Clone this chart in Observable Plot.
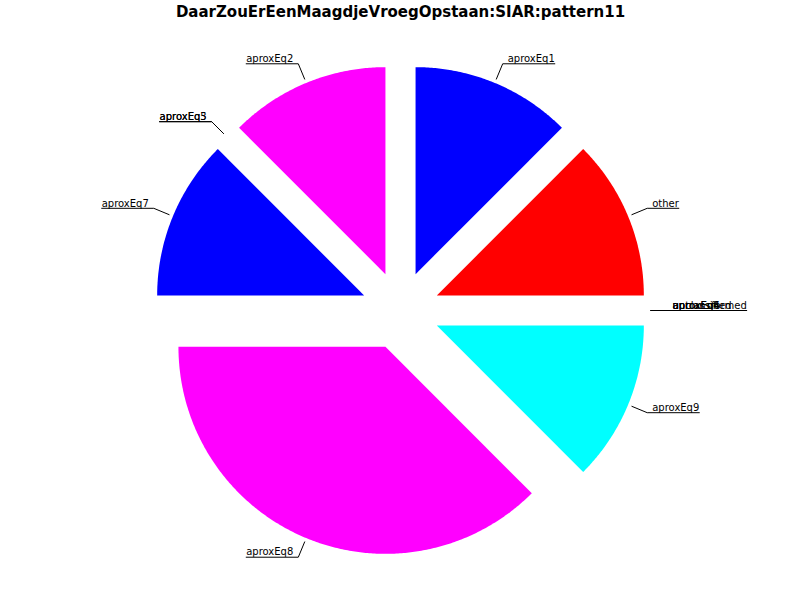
<!DOCTYPE html>
<html><head><meta charset="utf-8">
<script src="https://cdn.jsdelivr.net/npm/d3@7"></script>
<script src="https://cdn.jsdelivr.net/npm/@observablehq/plot@0.6"></script>
<style>body{margin:0;background:#fff;}</style>
</head><body><div id="chart"></div>
<script>
const title = "DaarZouErEenMaagdjeVroegOpstaan:SIAR:pattern11";
const labels = ["aproxEq1","other","aproxEq4","aproxEq6","unclassified","untransformed","aproxEq9","aproxEq8","aproxEq7","aproxEq3","aproxEq5","aproxEq2"];
const values = [1,1,0,0,0,0,1,3,1,0,0,1];
const colors = ["#0000ff","#ff0000","#00ff00","#ffff00","#000000","#808080","#00ffff","#ff00ff","#0000ff","#ff0000","#00ff00","#ff00ff"];

const R_PX = 207, W = 800, H = 600, CX = 400, CY = 310;
const explode = 0.19;

const data = labels.map((l, i) => ({label: l, value: values[i], color: colors[i]}));
const arcs = d3.pie().sort(null).value(d => d.value)(data);

const ctx = document.createElement("canvas").getContext("2d");
ctx.font = "10px 'DejaVu Sans'";

const polys = [], leaders = [], textsR = [], textsL = [];
arcs.forEach((a, i) => {
  const m = (a.startAngle + a.endAngle) / 2;
  const s = Math.sin(m), c = Math.cos(m);
  const ox = explode * s, oy = explode * c;
  const span = a.endAngle - a.startAngle;
  if (span > 0) {
    polys.push({k: i, x: ox, y: oy, c: a.data.color});
    const n = Math.max(2, Math.ceil(span / (Math.PI / 360)));
    for (let j = 0; j <= n; j++) {
      const t = a.startAngle + span * j / n;
      polys.push({k: i, x: ox + Math.sin(t), y: oy + Math.cos(t), c: a.data.color});
    }
  }
  const w = ctx.measureText(a.data.label).width;
  const right = s >= -1e-9;
  const ex = ox + 1.1 * s, ey = oy + 1.1 * c;
  const outer = ex + (right ? 1 : -1) * (w + 5) / R_PX;
  leaders.push({k: i, x: ox + 1.02 * s, y: oy + 1.02 * c});
  leaders.push({k: i, x: ex, y: ey});
  leaders.push({k: i, x: outer, y: ey});
  (right ? textsR : textsL).push({x: outer, y: ey, label: a.data.label});
});

const chart = Plot.plot({
  width: W, height: H,
  marginTop: 0, marginBottom: 0, marginLeft: 0, marginRight: 0,
  x: {domain: [-CX / R_PX, (W - CX) / R_PX], axis: null},
  y: {domain: [-(H - CY) / R_PX, CY / R_PX], axis: null},
  color: {type: "identity"},
  style: {fontFamily: "'DejaVu Sans', sans-serif", background: "#fff"},
  marks: [
    Plot.line(polys, {x: "x", y: "y", z: "k", fill: "c", stroke: "none", curve: "linear"}),
    Plot.line(leaders, {x: "x", y: "y", z: "k", stroke: "black", strokeWidth: 1, curve: "linear"}),
    Plot.text(textsR, {x: "x", y: "y", text: "label", textAnchor: "end", dy: -5, fontSize: 10, fill: "black"}),
    Plot.text(textsL, {x: "x", y: "y", text: "label", textAnchor: "start", dy: -5, fontSize: 10, fill: "black"}),
    Plot.text([title], {frameAnchor: "top", lineAnchor: "top", dy: 6, fontSize: 15, fontWeight: "bold", fill: "black"})
  ]
});
document.getElementById("chart").appendChild(chart);
</script>
</body></html>
